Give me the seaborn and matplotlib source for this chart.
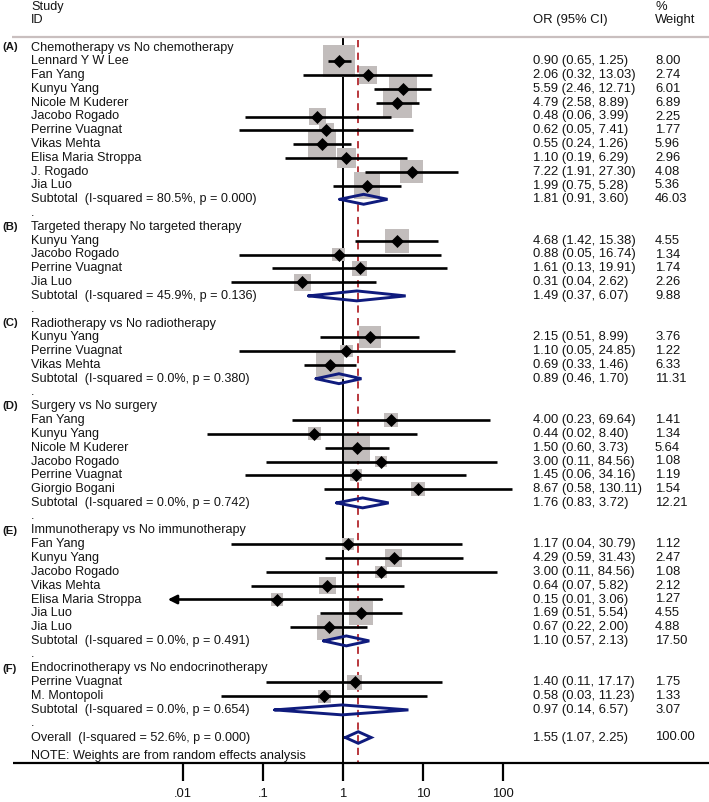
import numpy as np
import pandas as pd
import matplotlib
matplotlib.use('Agg')
import matplotlib.pyplot as plt
import seaborn as sns

# ---- data ----
group_tags = ['(A)', '(B)', '(C)', '(D)', '(E)', '(F)']
group_names = ['Chemotherapy vs No chemotherapy',
               'Targeted therapy No targeted therapy',
               'Radiotherapy vs No radiotherapy',
               'Surgery vs No surgery',
               'Immunotherapy vs No immunotherapy',
               'Endocrinotherapy vs No endocrinotherapy']

studies = [
    ['Lennard Y W Lee', 'Fan Yang', 'Kunyu Yang', 'Nicole M Kuderer', 'Jacobo Rogado',
     'Perrine Vuagnat', 'Vikas Mehta', 'Elisa Maria Stroppa', 'J. Rogado', 'Jia Luo'],
    ['Kunyu Yang', 'Jacobo Rogado', 'Perrine Vuagnat', 'Jia Luo'],
    ['Kunyu Yang', 'Perrine Vuagnat', 'Vikas Mehta'],
    ['Fan Yang', 'Kunyu Yang', 'Nicole M Kuderer', 'Jacobo Rogado', 'Perrine Vuagnat', 'Giorgio Bogani'],
    ['Fan Yang', 'Kunyu Yang', 'Jacobo Rogado', 'Vikas Mehta', 'Elisa Maria Stroppa', 'Jia Luo', 'Jia Luo'],
    ['Perrine Vuagnat', 'M. Montopoli'],
]
or_est = [
    [0.90, 2.06, 5.59, 4.79, 0.48, 0.62, 0.55, 1.10, 7.22, 1.99],
    [4.68, 0.88, 1.61, 0.31],
    [2.15, 1.10, 0.69],
    [4.00, 0.44, 1.50, 3.00, 1.45, 8.67],
    [1.17, 4.29, 3.00, 0.64, 0.15, 1.69, 0.67],
    [1.40, 0.58],
]
ci_lo = [
    [0.65, 0.32, 2.46, 2.58, 0.06, 0.05, 0.24, 0.19, 1.91, 0.75],
    [1.42, 0.05, 0.13, 0.04],
    [0.51, 0.05, 0.33],
    [0.23, 0.02, 0.60, 0.11, 0.06, 0.58],
    [0.04, 0.59, 0.11, 0.07, 0.01, 0.51, 0.22],
    [0.11, 0.03],
]
ci_hi = [
    [1.25, 13.03, 12.71, 8.89, 3.99, 7.41, 1.26, 6.29, 27.30, 5.28],
    [15.38, 16.74, 19.91, 2.62],
    [8.99, 24.85, 1.46],
    [69.64, 8.40, 3.73, 84.56, 34.16, 130.11],
    [30.79, 31.43, 84.56, 5.82, 3.06, 5.54, 2.00],
    [17.17, 11.23],
]
weights = [
    [8.00, 2.74, 6.01, 6.89, 2.25, 1.77, 5.96, 2.96, 4.08, 5.36],
    [4.55, 1.34, 1.74, 2.26],
    [3.76, 1.22, 6.33],
    [1.41, 1.34, 5.64, 1.08, 1.19, 1.54],
    [1.12, 2.47, 1.08, 2.12, 1.27, 4.55, 4.88],
    [1.75, 1.33],
]
sub_i2 = [80.5, 45.9, 0.0, 0.0, 0.0, 0.0]
sub_p = [0.000, 0.136, 0.380, 0.742, 0.491, 0.654]
sub_or = [1.81, 1.49, 0.89, 1.76, 1.10, 0.97]
sub_lo = [0.91, 0.37, 0.46, 0.83, 0.57, 0.14]
sub_hi = [3.60, 6.07, 1.70, 3.72, 2.13, 6.57]
sub_w = [46.03, 9.88, 11.31, 12.21, 17.50, 3.07]
overall = dict(i2=52.6, p=0.000, est=1.55, lo=1.07, hi=2.25, w=100.00)
xtick_vals = [0.01, 0.1, 1, 10, 100]
xtick_labels = ['.01', '.1', '1', '10', '100']

# ---- build row table ----
rows = []
subs = []
heads = []
dots = []
r = 0
for g in range(len(group_names)):
    heads.append(r)
    r += 1
    for s in range(len(studies[g])):
        rows.append(dict(row=r, study=studies[g][s], est=or_est[g][s],
                         lo=ci_lo[g][s], hi=ci_hi[g][s], w=weights[g][s]))
        r += 1
    subs.append(r)
    r += 1
    dots.append(r)
    r += 1
overall_row = r
df = pd.DataFrame(rows)

# ---- figure ----
sns.set_theme(style='white')
plt.rcParams['font.family'] = ['Liberation Sans', 'DejaVu Sans']
W, H = 709, 802
fig = plt.figure(figsize=(W / 100, H / 100), dpi=100)
ax = fig.add_axes([0, 0, 1, 1])
ax.set_xscale('log')

px_one, px_dec = 343, 80.0
y0, dy = 47.5, 13.8
ax.set_xlim(10 ** (-px_one / px_dec), 10 ** ((W - px_one) / px_dec))
ax.set_ylim((H - y0) / dy, -y0 / dy)
ax.axis('off')

def fx(px):
    return px / W

def ry(py):
    return (py - y0) / dy

txt = '#141414'
fs = 9.1      # left text column
fs_r = 9.4    # numeric columns
gray = '#c2bdbc'
navy = '#0f1b7d'
tr = ax.get_yaxis_transform()  # x axes fraction, y data

header_y = ry(36.5)
axis_y = ry(763)

# header
ax.text(fx(31), ry(7), 'Study', transform=tr, fontsize=fs, color=txt, va='center')
ax.text(fx(31), ry(20), 'ID', transform=tr, fontsize=fs, color=txt, va='center')
ax.text(fx(533), ry(20), 'OR (95% CI)', transform=tr, fontsize=fs_r, color=txt, va='center')
ax.text(fx(655), ry(7), '%', transform=tr, fontsize=fs_r, color=txt, va='center')
ax.text(fx(655), ry(20), 'Weight', transform=tr, fontsize=fs_r, color=txt, va='center')
ax.plot([fx(12), 1], [header_y, header_y], transform=tr, color='#c9bfbf', lw=1.6, solid_capstyle='butt')

# reference lines
ax.plot([1, 1], [header_y, axis_y], color='black', lw=1.4, zorder=1)
ax.plot([overall['est']] * 2, [header_y + 0.25, axis_y], color='#b3292e', lw=1.3,
        ls=(0, (4, 3)), zorder=1)

# weight boxes
k = 66.0
sns.scatterplot(data=df, x='est', y='row', size='w',
                sizes=(k * df.w.min(), k * df.w.max()), marker='s',
                color=gray, linewidth=0, legend=False, ax=ax, zorder=2)

# CI lines
x_arrow = 10 ** -2.19
for _, d in df.iterrows():
    if d.lo <= 0.01:
        ax.annotate('', xy=(x_arrow, d.row), xytext=(d.hi, d.row),
                    arrowprops=dict(arrowstyle='-|>', lw=1.9, color='black',
                                    mutation_scale=13, shrinkA=0, shrinkB=0), zorder=3)
    else:
        ax.plot([d.lo, d.hi], [d.row, d.row], color='black', lw=1.9,
                solid_capstyle='butt', zorder=3)

# point estimates
sns.scatterplot(data=df, x='est', y='row', marker='D', s=44, color='black',
                linewidth=0, legend=False, ax=ax, zorder=4)

# pooled diamonds
def diamond(est, lo, hi, yy, h=0.36):
    ax.plot([lo, est, hi, est, lo], [yy, yy - h, yy, yy + h, yy], color=navy,
            lw=2.1, zorder=5, solid_joinstyle='miter')

fmt = lambda e, l, h: f'{e:.2f} ({l:.2f}, {h:.2f})'

for g in range(len(group_names)):
    ax.text(fx(2), heads[g], group_tags[g], transform=tr, fontsize=8.2,
            fontweight='bold', color=txt, va='center')
    ax.text(fx(31), heads[g], group_names[g], transform=tr, fontsize=fs, color=txt, va='center')
    ax.text(fx(31), subs[g], f'Subtotal  (I-squared = {sub_i2[g]:.1f}%, p = {sub_p[g]:.3f})',
            transform=tr, fontsize=fs, color=txt, va='center')
    ax.text(fx(533), subs[g], fmt(sub_or[g], sub_lo[g], sub_hi[g]), transform=tr,
            fontsize=fs_r, color=txt, va='center')
    ax.text(fx(655), subs[g], f'{sub_w[g]:.2f}', transform=tr, fontsize=fs_r, color=txt, va='center')
    ax.text(fx(31), dots[g] + 0.2, '.', transform=tr, fontsize=fs, color=txt, va='baseline')
    diamond(sub_or[g], sub_lo[g], sub_hi[g], subs[g])

for _, d in df.iterrows():
    ax.text(fx(31), d.row, d.study, transform=tr, fontsize=fs, color=txt, va='center')
    ax.text(fx(533), d.row, fmt(d.est, d.lo, d.hi), transform=tr, fontsize=fs_r, color=txt, va='center')
    ax.text(fx(655), d.row, f'{d.w:.2f}', transform=tr, fontsize=fs_r, color=txt, va='center')

ax.text(fx(31), overall_row, f'Overall  (I-squared = {overall["i2"]:.1f}%, p = {overall["p"]:.3f})',
        transform=tr, fontsize=fs, color=txt, va='center')
ax.text(fx(533), overall_row, fmt(overall['est'], overall['lo'], overall['hi']), transform=tr,
        fontsize=fs_r, color=txt, va='center')
ax.text(fx(655), overall_row, f'{overall["w"]:.2f}', transform=tr, fontsize=fs_r, color=txt, va='center')
diamond(overall['est'], overall['lo'], overall['hi'], overall_row, h=0.42)

ax.text(fx(31), ry(756), 'NOTE: Weights are from random effects analysis', transform=tr,
        fontsize=fs, color=txt, va='center')

# x axis
ax.plot([fx(13), 1], [axis_y, axis_y], transform=tr, color='black', lw=1.6, solid_capstyle='butt')
for v, lab in zip(xtick_vals, xtick_labels):
    ax.plot([v, v], [axis_y, ry(781)], color='black', lw=1.6, solid_capstyle='butt')
    ax.text(v, ry(794), lab, fontsize=fs_r, color=txt, ha='center', va='center')

fig.savefig('out.png', dpi=100)
